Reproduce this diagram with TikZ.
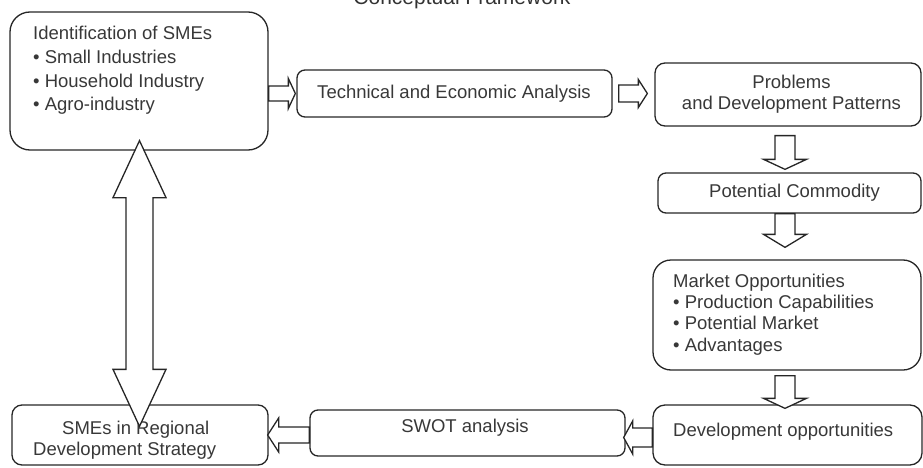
\documentclass[tikz,border=0pt]{standalone}
\usepackage{fontspec}
\setmainfont{Liberation Sans}
\usetikzlibrary{calc,fit}

\tikzset{
  box/.style={draw=black!85, line width=1.3pt, inner sep=0pt},
  barrow/.style={draw=black!85, fill=white, line width=1.3pt, line join=miter},
  txt/.style={font=\fontsize{18.5}{22}\selectfont, text=black!78, inner sep=0pt},
  ttl/.style={font=\fontsize{21}{24}\selectfont, text=black!80, inner sep=0pt},
}

% single-headed block arrow: tail, tip, shaft half-width, head half-width, head length
\newcommand\blockarrow[5]{%
  \draw[barrow] let \p1=(#1), \p2=(#2),
      \n1={atan2(\y2-\y1,\x2-\x1)}, \n2={veclen(\x2-\x1,\y2-\y1)} in
    ($(\p1)+({\n1+90}:#3pt)$) -- ++({\n1}:{\n2-#5pt}) -- ++({\n1+90}:{#4pt-#3pt})
    -- (\p2)
    -- ($(\p2)+({\n1+180}:#5pt)+({\n1-90}:#4pt)$) -- ++({\n1+90}:{#4pt-#3pt})
    -- ($(\p1)+({\n1-90}:#3pt)$) -- cycle;}

% double-headed block arrow: tip, tip, shaft half-width, head half-width, head length
\newcommand\dblarrow[5]{%
  \draw[barrow] let \p1=(#1), \p2=(#2),
      \n1={atan2(\y2-\y1,\x2-\x1)} in
    (\p1) -- ($(\p1)+({\n1}:#5pt)+({\n1+90}:#4pt)$) -- ++({\n1-90}:{#4pt-#3pt})
    -- ($(\p2)+({\n1+180}:#5pt)+({\n1+90}:#3pt)$) -- ++({\n1+90}:{#4pt-#3pt})
    -- (\p2)
    -- ($(\p2)+({\n1+180}:#5pt)+({\n1-90}:#4pt)$) -- ++({\n1+90}:{#4pt-#3pt})
    -- ($(\p1)+({\n1}:#5pt)+({\n1-90}:#3pt)$) -- ++({\n1-90}:{#4pt-#3pt})
    -- cycle;}

\begin{document}
\begin{tikzpicture}[x=1pt,y=-1pt]
\useasboundingbox (0,0) rectangle (923,468);

% title, partly above the page edge
\node[ttl, anchor=base] (title) at (462,5) {Conceptual Framework};

% boxes
\node[box, rounded corners=20pt, fit={(10,12) (268,150)}] (ident) {};
\node[box, rounded corners=8pt,  fit={(297,70) (612,117)}] (tech) {};
\node[box, rounded corners=10pt, fit={(655,63) (921,126)}] (prob) {};
\node[box, rounded corners=8pt,  fit={(658,173) (921,213)}] (comm) {};
\node[box, rounded corners=18pt, fit={(653,260) (921,370)}] (market) {};
\node[box, rounded corners=12pt, fit={(653,405) (922,465)}] (devopp) {};
\node[box, rounded corners=8pt,  fit={(310,410) (625,456)}] (swot) {};
\node[box, rounded corners=10pt, fit={(12,405) (268,465)}] (strat) {};

% box texts
\node[txt, anchor=base west] (identT)  at (33,40)  {Identification of SMEs};
\node[txt, anchor=base west] (identA)  at (33,64)  {• Small Industries};
\node[txt, anchor=base west] (identB)  at (33,88)  {• Household Industry};
\node[txt, anchor=base west] (identC)  at (33,111) {• Agro-industry};

\node[txt, anchor=base] (techT) at (454,99) {Technical and Economic Analysis};

\node[txt, anchor=base] (probA) at (791.5,89)  {Problems};
\node[txt, anchor=base] (probB) at (791.5,110) {and Development Patterns};

\node[txt, anchor=base] (commT) at (794.5,197) {Potential Commodity};

\node[txt, anchor=base west] (marketT) at (673,287) {Market Opportunities};
\node[txt, anchor=base west] (marketA) at (673,308) {• Production Capabilities};
\node[txt, anchor=base west] (marketB) at (673,329) {• Potential Market};
\node[txt, anchor=base west] (marketC) at (673,351) {• Advantages};

\node[txt, anchor=base west] (devoppT) at (673,436) {Development opportunities};

\node[txt, anchor=base] (swotT) at (465,432) {SWOT analysis};

\node[txt, anchor=base west] (stratA) at (62,434) {SMEs in Regional};
\node[txt, anchor=base west] (stratB) at (33,455) {Development Strategy};

% block arrows between the boxes
\blockarrow{tech.west -| ident.east}{$(tech.west)+(-1,0)$}{7.5}{15}{7}
\blockarrow{$(tech.east)+(6,0)$}{$(prob.west |- tech.east)+(-7,0)$}{8.5}{14}{9}
\blockarrow{$(prob.south)+(-3,9)$}{$(comm.north)+(-4.5,-3)$}{10}{21.5}{10}
\blockarrow{$(comm.south)+(-4.5,0)$}{$(market.north)+(-2,-12)$}{10}{21.5}{13}
\blockarrow{$(market.south)+(-2,5)$}{$(devopp.north)+(-2.5,4)$}{10}{21.5}{10}
\blockarrow{$(devopp.west)+(0,2.5)$}{$(swot.east)+(-2,4.5)$}{9.5}{16.5}{9}
\blockarrow{$(swot.west)+(0,2)$}{$(strat.east)+(-1,0)$}{8}{17}{11}
\dblarrow{$(ident.south)+(0.5,-10)$}{$(strat.north)+(-0.5,22)$}{13.5}{26.5}{57}

\end{tikzpicture}
\end{document}
